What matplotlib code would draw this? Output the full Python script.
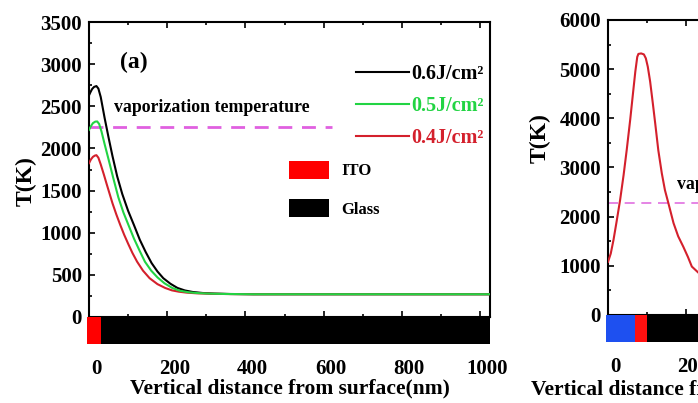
import matplotlib
matplotlib.use('Agg')
import matplotlib.pyplot as plt
from matplotlib.lines import Line2D
from matplotlib.patches import Patch
from matplotlib.ticker import MultipleLocator
from matplotlib.transforms import ScaledTranslation

plt.rcParams['font.family'] = 'Liberation Serif'
plt.rcParams['font.weight'] = 'bold'
plt.rcParams['axes.labelweight'] = 'bold'

# ---- panel (a): temperature vs depth for three fluences ----
x_06 = [0, 4, 8, 13, 19, 24, 30, 40, 50, 60, 72, 85, 100, 115, 130, 145, 160, 175, 190,
        208, 226, 245, 265, 290, 320, 360, 420, 1025]
t_06 = [2630, 2670, 2705, 2730, 2740, 2710, 2610, 2360, 2130, 1910, 1670, 1460, 1260, 1090,
        915, 770, 640, 540, 460, 395, 345, 315, 297, 285, 278, 273, 270, 270]

x_05 = [0, 5, 10, 16, 21, 26, 32, 40, 50, 62, 75, 88, 101, 115, 129, 143, 159, 175, 193,
        213, 232, 255, 280, 310, 350, 420, 1025]
t_05 = [2220, 2265, 2300, 2318, 2320, 2290, 2200, 2050, 1870, 1650, 1420, 1240, 1090, 930,
        790, 656, 550, 470, 400, 344, 312, 293, 283, 277, 273, 270, 270]

x_04 = [0, 5, 10, 15, 19, 24, 30, 38, 45, 60, 70, 80, 90, 100, 111, 123, 138, 155, 175,
        195, 212, 230, 250, 275, 310, 360, 420, 1025]
t_04 = [1825, 1870, 1900, 1915, 1920, 1890, 1810, 1690, 1580, 1350, 1215, 1091, 975, 870,
        760, 656, 550, 460, 390, 344, 316, 300, 289, 281, 276, 272, 270, 270]

fluence_labels = ['0.6J/cm²', '0.5J/cm²', '0.4J/cm²']
fluence_colors = ['#000000', '#22d443', '#d4202c']

vap_a = 2250
layer_a_names = ['ITO', 'Glass']
layer_a_start = [-5, 30]
layer_a_end = [30, 1025]
layer_a_colors = ['#ff0000', '#000000']

# ---- panel (b): single curve ----
x_b = [0, 7, 14, 22, 31, 40, 48, 57, 65, 70, 75, 78, 85, 92, 97, 102, 108, 115, 121,
       129, 138, 146, 155, 168, 180, 193, 205, 215, 240]
t_b = [1080, 1250, 1525, 1900, 2340, 2850, 3360, 3980, 4580, 4950, 5250, 5310, 5320, 5300,
       5220, 5050, 4750, 4300, 3900, 3350, 2880, 2540, 2270, 1870, 1600, 1390, 1180, 985, 800]
vap_b = 2280
layer_b_start = [-5, 70, 100]
layer_b_end = [70, 100, 505]
layer_b_colors = ['#1e50f0', '#ff1010', '#000000']

fig = plt.figure(figsize=(6.98, 4.03), dpi=100)
ax = fig.add_axes([0.1275, 0.2134, 0.5745, 0.732])
ax2 = fig.add_axes([0.8711, 0.2184, 0.282, 0.732])

lw = 1.5
ax.plot(x_06, t_06, color=fluence_colors[0], lw=lw, zorder=3)
ax.plot(x_04, t_04, color=fluence_colors[2], lw=lw, zorder=3)
ax.plot(x_05, t_05, color=fluence_colors[1], lw=lw, zorder=4)
ax.plot([0, 620], [vap_a, vap_a], color='#e060e0', lw=2, dashes=(5, 3.5))

for s, e, c in zip(layer_a_start, layer_a_end, layer_a_colors):
    ax.broken_barh([(s, e - s)], (-320, 320), facecolors=c, clip_on=False, zorder=5)

ax.set_xlim(0, 1025)
ax.set_ylim(0, 3500)

ax2.plot(x_b, t_b, color='#d4202c', lw=lw, zorder=3)
ax2.plot([0, 505], [vap_b, vap_b], color='#e070e0', lw=1.2, dashes=(6, 4))
for s, e, c in zip(layer_b_start, layer_b_end, layer_b_colors):
    ax2.broken_barh([(s, e - s)], (-550, 550), facecolors=c, clip_on=False, zorder=5)
ax2.set_xlim(0, 505)
ax2.set_ylim(0, 6000)

shift = ScaledTranslation(7 / 100, 0, fig.dpi_scale_trans)
for a, ymaj, ymin in [(ax, 500, 250), (ax2, 1000, 500)]:
    a.xaxis.set_major_locator(MultipleLocator(200))
    a.xaxis.set_minor_locator(MultipleLocator(100))
    a.yaxis.set_major_locator(MultipleLocator(ymaj))
    a.yaxis.set_minor_locator(MultipleLocator(ymin))
    a.tick_params(which='both', direction='in', top=True, right=False, width=1.2)
    a.tick_params(which='major', length=4)
    a.tick_params(which='minor', length=2.5)
    a.tick_params(axis='x', which='both', pad=30, labelsize=15)
    a.tick_params(axis='y', which='both', pad=5, labelsize=15)
    for sp in a.spines.values():
        sp.set_linewidth(1.5)
    for lab in a.get_xticklabels():
        lab.set_transform(lab.get_transform() + shift)
    a.set_xlabel('Vertical distance from surface(nm)', fontsize=15.5, labelpad=0)
    a.set_ylabel('T(K)', fontsize=17)

ax.yaxis.set_label_coords(-0.13, 0.46)
ax2.yaxis.set_label_coords(-0.29, 0.6)
ax2.xaxis.set_label_coords(0.42, -0.218)

ax.text(0.077, 0.864, '(a)', transform=ax.transAxes, fontsize=17, va='center')
ax.text(63, 2430, 'vaporization temperature', fontsize=12.8)
ax2.text(177, 2560, 'vaporization temperature', fontsize=12.8)

line_handles = [Line2D([], [], color=c, lw=lw) for c in fluence_colors]
leg1 = ax.legend(line_handles, fluence_labels, loc='upper right', bbox_to_anchor=(0.985, 0.857),
                 frameon=False, fontsize=14.5, handlelength=2.65, handletextpad=0.1,
                 labelspacing=0.6, borderaxespad=0, borderpad=0)
for txt, c in zip(leg1.get_texts(), fluence_colors):
    txt.set_color(c)
ax.add_artist(leg1)

patch_handles = [Patch(facecolor=c, edgecolor='none') for c in layer_a_colors]
ax.legend(patch_handles, layer_a_names, loc='upper left', bbox_to_anchor=(0.5, 0.53),
          frameon=False, fontsize=12, handlelength=2.4, handleheight=1.3,
          handletextpad=0.7, labelspacing=1.2, borderaxespad=0, borderpad=0)

fig.savefig('out.png', dpi=100)
